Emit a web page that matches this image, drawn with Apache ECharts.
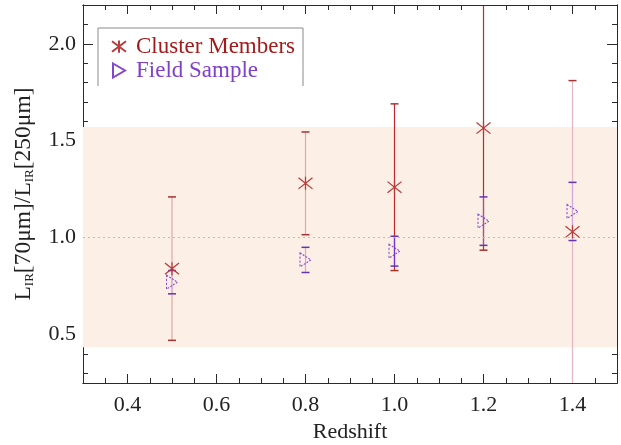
<!DOCTYPE html>
<html>
<head>
<meta charset="utf-8">
<script src="https://cdn.jsdelivr.net/npm/echarts@6/dist/echarts.min.js"></script>
<style>
html,body{margin:0;padding:0;background:#fff;}
#chart{width:621px;height:445px;}
</style>
</head>
<body>
<div id="chart"></div>
<script>
// ---- data ----
const redshift = [0.5, 0.8, 1.0, 1.2, 1.4];
const clusterRatio = [0.84, 1.28, 1.26, 1.565, 1.03];
const clusterError = [0.37, 0.265, 0.43, 0.63, 0.78];
const fieldRatio = [0.77, 0.885, 0.93, 1.085, 1.135];
const fieldError = [0.06, 0.065, 0.077, 0.125, 0.15];
const bandRange = [0.435, 1.57];
const referenceLevel = 1.0;
const xRange = [0.3, 1.5];
const yRange = [0.25, 2.2];
const xTickLabels = [0.4, 0.6, 0.8, 1.0, 1.2, 1.4];
const xMinorTicks = [0.35, 0.45, 0.5, 0.55, 0.65, 0.7, 0.75, 0.85, 0.9, 0.95, 1.05, 1.1, 1.15, 1.25, 1.3, 1.35, 1.45];
const yTickLabels = [0.5, 1.0, 1.5, 2.0];
const yMinorTicks = [0.3, 0.4, 0.6, 0.7, 0.8, 0.9, 1.1, 1.2, 1.3, 1.4, 1.6, 1.7, 1.8, 1.9, 2.1];
const seriesNames = ['Cluster Members', 'Field Sample'];
const xTitle = 'Redshift';

// ---- styles ----
const FONT = "'Liberation Serif', 'Times New Roman', serif";
const AXIS = '#2a2a2a';
const clusterLineColors = ['#dba9a6', '#dba9a6', '#c0282c', '#c0282c', '#e3b6c2'];
const fieldLineColors = ['#d6aee6', '#cfa6e4', '#7534c8', '#8c52d2', '#d4a8d8'];
const clusterCap = '#a83232';
const fieldCap = '#6533b3';
const clusterColor = '#b83c3c';
const fieldColor = '#8447c9';

function xAxisDef(position, ticks, len, showLabel) {
  return {
    type: 'value', position: position, min: xRange[0], max: xRange[1],
    axisLine: { show: true, onZero: false, lineStyle: { color: AXIS, width: 1 } },
    axisTick: { show: true, inside: true, length: len, customValues: ticks, lineStyle: { color: AXIS, width: 1 } },
    axisLabel: { show: showLabel, customValues: xTickLabels, margin: 11, color: '#222', fontFamily: FONT, fontSize: 22,
      formatter: v => v.toFixed(1) },
    splitLine: { show: false },
    name: showLabel ? xTitle : '', nameLocation: 'middle', nameGap: 35,
    nameTextStyle: { fontFamily: FONT, fontSize: 22, color: '#222' }
  };
}
function yAxisDef(position, ticks, len, showLabel) {
  return {
    type: 'value', position: position, min: yRange[0], max: yRange[1],
    axisLine: { show: true, onZero: false, lineStyle: { color: AXIS, width: 1 } },
    axisTick: { show: true, inside: true, length: len, customValues: ticks, lineStyle: { color: AXIS, width: 1 } },
    axisLabel: { show: showLabel, customValues: yTickLabels, margin: 7, color: '#222', fontFamily: FONT, fontSize: 22,
      formatter: v => v.toFixed(1) },
    splitLine: { show: false },
    name: showLabel ? 'L{s|IR}[70μm]/L{s|IR}[250μm]' : '',
    nameLocation: 'middle', nameGap: 47,
    nameTextStyle: { fontFamily: FONT, fontSize: 23.5, color: '#222',
      rich: { s: { fontFamily: FONT, fontSize: 13, color: '#222', verticalAlign: 'bottom' } } }
  };
}

function errorBars(values, errors, lineColors, capColor, z) {
  return {
    type: 'custom', z: z, silent: true,
    data: redshift.map((x, i) => [x, values[i] - errors[i], values[i] + errors[i]]),
    renderItem: function (params, api) {
      const cs = params.coordSys;
      const x = api.value(0);
      const pLo = api.coord([x, api.value(1)]);
      const pHi = api.coord([x, api.value(2)]);
      const top = cs.y, bottom = cs.y + cs.height;
      const yHi = Math.max(pHi[1], top), yLo = Math.min(pLo[1], bottom);
      const cap = 4;
      const children = [{
        type: 'line', shape: { x1: pLo[0], y1: yLo, x2: pHi[0], y2: yHi },
        style: { stroke: lineColors[params.dataIndex], lineWidth: 1.2 }
      }];
      if (pHi[1] > top + 1) children.push({ type: 'line', shape: { x1: pHi[0] - cap, y1: pHi[1], x2: pHi[0] + cap, y2: pHi[1] }, style: { stroke: capColor, lineWidth: 1.5 } });
      if (pLo[1] < bottom - 1) children.push({ type: 'line', shape: { x1: pLo[0] - cap, y1: pLo[1], x2: pLo[0] + cap, y2: pLo[1] }, style: { stroke: capColor, lineWidth: 1.5 } });
      return { type: 'group', children: children };
    }
  };
}

const chart = echarts.init(document.getElementById('chart'), null, { renderer: 'canvas' });
chart.setOption({
  animation: false,
  backgroundColor: '#fff',
  grid: { left: 83, right: 4, top: 5, bottom: 62, containLabel: false, outerBoundsMode: 'none' },
  xAxis: [
    xAxisDef('bottom', xTickLabels, 9, true),
    xAxisDef('bottom', xMinorTicks, 5, false),
    xAxisDef('top', xTickLabels, 9, false),
    xAxisDef('top', xMinorTicks, 5, false)
  ],
  yAxis: [
    yAxisDef('left', yTickLabels, 10, true),
    yAxisDef('left', yMinorTicks, 5, false),
    yAxisDef('right', yTickLabels, 10, false),
    yAxisDef('right', yMinorTicks, 5, false)
  ],
  legend: {
    orient: 'vertical', left: 111, top: 35, padding: 0, itemWidth: 14, itemHeight: 14, itemGap: 1,
    selectedMode: false,
    data: [
      { name: seriesNames[0], textStyle: { color: '#a31a1a' } },
      { name: seriesNames[1], textStyle: { color: '#8040c8' } }
    ],
    textStyle: { fontFamily: FONT, fontSize: 23, lineHeight: 22, padding: [0, 0, 0, 5] }
  },
  graphic: [{
    type: 'polyline', z: 100, silent: true,
    shape: { points: [[98, 86], [98, 28], [303, 28], [303, 86]] },
    style: { stroke: '#8a8a8a', lineWidth: 1, fill: null }
  }],
  series: [
    {
      type: 'line', name: 'band', data: [], z: 1, silent: true,
      markArea: { silent: true, itemStyle: { color: '#fcefe5' },
        data: [[{ yAxis: bandRange[0] }, { yAxis: bandRange[1] }]] },
      markLine: { silent: true, symbol: ['none', 'none'], label: { show: false },
        lineStyle: { type: [2, 3], color: '#d6b4a6', width: 1 },
        data: [{ yAxis: referenceLevel }] }
    },
    errorBars(clusterRatio, clusterError, clusterLineColors, clusterCap, 3),
    errorBars(fieldRatio, fieldError, fieldLineColors, fieldCap, 4),
    {
      type: 'scatter', name: seriesNames[0], z: 6,
      symbol: 'path://M0,0L16,12M0,12L16,0M8,-1L8,13',
      symbolSize: [14, 13],
      itemStyle: { color: 'transparent', borderColor: clusterColor, borderWidth: 1.2, opacity: 1 },
      data: redshift.map((x, i) => [x, clusterRatio[i]])
    },
    {
      type: 'scatter', name: seriesNames[1], z: 5,
      symbol: 'path://M0,0L12,7L0,14Z',
      symbolSize: [11, 14],
      itemStyle: { color: 'transparent', borderColor: fieldColor, borderWidth: 1.1, borderType: [2, 1.5], opacity: 1 },
      data: redshift.map((x, i) => [x, fieldRatio[i]])
    }
  ]
});
</script>
</body>
</html>
